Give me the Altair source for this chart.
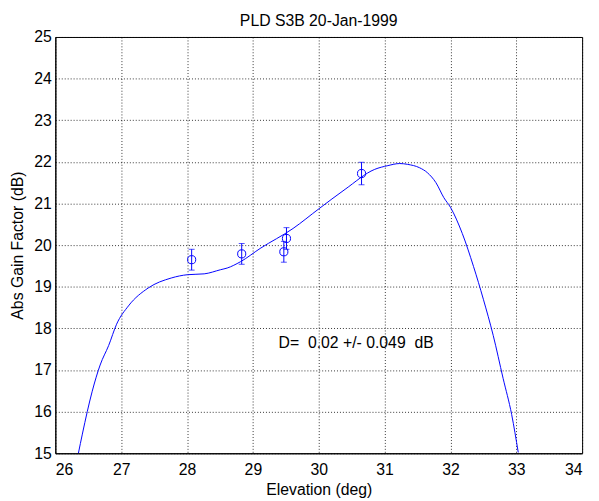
import altair as alt
import pandas as pd

# fitted curve
curve_x = [26.35, 26.41, 26.56, 26.68, 26.81, 26.93, 27.11, 27.41, 27.76, 28.01,
           28.26, 28.51, 28.61, 28.81, 29.11, 29.61, 30.0, 30.4, 30.85, 31.05,
           31.23, 31.35, 31.53, 31.65, 31.78, 31.90, 32.0, 32.18, 32.35, 32.50,
           32.65, 32.80, 32.93, 33.03]
curve_y = [15.0, 15.46, 16.49, 17.12, 17.59, 18.10, 18.54, 18.97, 19.21, 19.29,
           19.31, 19.41, 19.45, 19.60, 19.92, 20.40, 20.87, 21.34, 21.82, 21.91,
           21.96, 21.94, 21.86, 21.74, 21.50, 21.14, 20.91, 20.28, 19.49, 18.70,
           17.83, 16.80, 15.93, 15.02]

# measured points
pt_x = [28.07, 28.83, 29.47, 29.51, 30.65]
pt_y = [19.65, 19.79, 19.84, 20.16, 21.72]
pt_err = [0.25, 0.25, 0.25, 0.26, 0.27]

x_ticks = [26, 27, 28, 29, 30, 31, 32, 33, 34]
y_ticks = [15, 16, 17, 18, 19, 20, 21, 22, 23, 24, 25]

annot_text = ["D=\u00a0 0.02 +/- 0.049\u00a0 dB"]
annot_x = [29.39]
annot_y = [17.65]

FONT = "Liberation Sans"
BLUE = "#0000ff"

curve = pd.DataFrame({"x": curve_x, "y": curve_y})
pts = pd.DataFrame({"x": pt_x, "y": pt_y, "lo": [a - b for a, b in zip(pt_y, pt_err)],
                    "hi": [a + b for a, b in zip(pt_y, pt_err)]})
ann = pd.DataFrame({"x": annot_x, "y": annot_y, "t": annot_text})

xs = alt.Scale(domain=[26, 34], nice=False)
ys = alt.Scale(domain=[15, 25], nice=False)

xax = alt.Axis(values=x_ticks, title="Elevation (deg)", grid=True, tickSize=0,
               labelPadding=9, titlePadding=4, format="d")
yax = alt.Axis(values=y_ticks, title="Abs Gain Factor (dB)", grid=True, tickSize=0,
               labelPadding=4, titlePadding=8, format="d")

line = alt.Chart(curve).mark_line(color=BLUE, strokeWidth=1, clip=True,
                                  interpolate="monotone").encode(
    x=alt.X("x:Q", scale=xs, axis=xax),
    y=alt.Y("y:Q", scale=ys, axis=yax),
    order="x:Q",
)

bars = alt.Chart(pts).mark_rule(color=BLUE, strokeWidth=1).encode(
    x=alt.X("x:Q", scale=xs), y=alt.Y("lo:Q", scale=ys), y2="hi:Q"
)
cap_lo = alt.Chart(pts).mark_tick(color=BLUE, orient="horizontal", size=6, thickness=1).encode(
    x=alt.X("x:Q", scale=xs), y=alt.Y("lo:Q", scale=ys)
)
cap_hi = alt.Chart(pts).mark_tick(color=BLUE, orient="horizontal", size=6, thickness=1).encode(
    x=alt.X("x:Q", scale=xs), y=alt.Y("hi:Q", scale=ys)
)
circles = alt.Chart(pts).mark_point(shape="circle", filled=False, color=BLUE, size=68,
                                    strokeWidth=1, opacity=1).encode(
    x=alt.X("x:Q", scale=xs), y=alt.Y("y:Q", scale=ys)
)
text = alt.Chart(ann).mark_text(align="left", baseline="middle", font=FONT, fontSize=16,
                                color="black").encode(
    x=alt.X("x:Q", scale=xs), y=alt.Y("y:Q", scale=ys), text="t:N"
)

chart = alt.layer(line, bars, cap_lo, cap_hi, circles, text).properties(
    width=534, height=422,
    background="white",
    title=alt.TitleParams("PLD S3B 20-Jan-1999", font=FONT, fontSize=16, fontWeight="normal",
                          color="black", offset=0),
    autosize=alt.AutoSizeParams(type="none"),
    padding={"left": 48, "top": 26, "right": 9, "bottom": 45},
).configure_view(stroke="black", strokeWidth=1).configure_axis(
    labelFont=FONT, labelFontSize=16, labelColor="black",
    titleFont=FONT, titleFontSize=16, titleFontWeight="normal", titleColor="black",
    domainColor="black", domainWidth=1,
    gridColor="black", gridDash=[1, 2], gridOpacity=0.8, gridWidth=1,
)

chart.save("out.html", embed_options={"renderer": "svg", "actions": False})
